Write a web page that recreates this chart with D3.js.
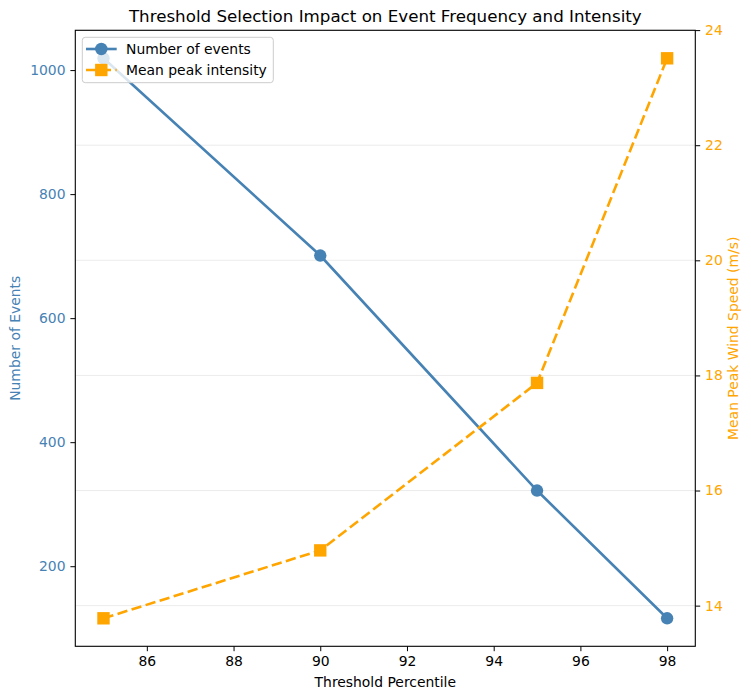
<!DOCTYPE html>
<html lang="en">
  <head>
    <meta charset="utf-8">
    <title>Threshold Selection Impact</title>
    <script src="https://cdn.jsdelivr.net/npm/d3@7"></script>
    <style>
      body, html { margin: 0; padding: 0; background: #fff; }
      svg { font-family: "DejaVu Sans", sans-serif; display: block; }
    </style>
  </head>
  <body>
    <svg width="751" height="699"></svg>
  </body>
  <script>
    // data
    const thresholds = [85, 90, 95, 98]
    const eventCounts = [1019, 701, 322, 116]
    const meanPeak = [13.78, 14.96, 17.87, 23.51]
    const leftTicks = [200, 400, 600, 800, 1000]
    const rightTicks = [14, 16, 18, 20, 22, 24]
    const xTicks = [86, 88, 90, 92, 94, 96, 98]

    const blue = "steelblue"
    const orange = "orange"

    const svg = d3.select("svg")
    // plot box (window.top is taken, so no plain "top")
    const plotL = 75.3, plotR = 695.3, plotT = 30.3, plotB = 646.3

    // matplotlib style 5% margins
    function padded(vals) {
      const [lo, hi] = d3.extent(vals)
      const m = (hi - lo) * 0.05
      return [lo - m, hi + m]
    }

    const x = d3.scaleLinear().domain(padded(thresholds)).range([plotL, plotR])
    const y1 = d3.scaleLinear().domain(padded(eventCounts)).range([plotB, plotT])
    const y2 = d3.scaleLinear().domain(padded(meanPeak)).range([plotB, plotT])

    // grid from the right axis
    svg.append("g").selectAll("line")
      .data(rightTicks)
      .join("line")
      .attr("x1", plotL).attr("x2", plotR)
      .attr("y1", d => y2(d)).attr("y2", d => y2(d))
      .attr("stroke", "#b0b0b0")
      .attr("stroke-opacity", 0.3)
      .attr("stroke-width", 0.8)

    // lines
    const line1 = d3.line().x((d, i) => x(thresholds[i])).y(d => y1(d))
    const line2 = d3.line().x((d, i) => x(thresholds[i])).y(d => y2(d))

    svg.append("path")
      .attr("d", line1(eventCounts))
      .attr("fill", "none")
      .attr("stroke", blue)
      .attr("stroke-width", 2.6)

    svg.append("g").selectAll("circle")
      .data(eventCounts)
      .join("circle")
      .attr("cx", (d, i) => x(thresholds[i]))
      .attr("cy", d => y1(d))
      .attr("r", 6.2)
      .attr("fill", blue)

    svg.append("path")
      .attr("d", line2(meanPeak))
      .attr("fill", "none")
      .attr("stroke", orange)
      .attr("stroke-width", 2.6)
      .attr("stroke-dasharray", "10.3,4.4")

    const sq = 12.4
    svg.append("g").selectAll("rect")
      .data(meanPeak)
      .join("rect")
      .attr("x", (d, i) => x(thresholds[i]) - sq / 2)
      .attr("y", d => y2(d) - sq / 2)
      .attr("width", sq)
      .attr("height", sq)
      .attr("fill", orange)

    // axes
    const fs = "13.9px"
    const gx = svg.append("g")
      .attr("transform", "translate(0," + plotB + ")")
      .call(d3.axisBottom(x).tickValues(xTicks).tickSize(4.9).tickPadding(4.9).tickFormat(d3.format("d")))
    const gl = svg.append("g")
      .attr("transform", "translate(" + plotL + ",0)")
      .call(d3.axisLeft(y1).tickValues(leftTicks).tickSize(4.9).tickPadding(4.9).tickFormat(d3.format("d")))
    const gr = svg.append("g")
      .attr("transform", "translate(" + plotR + ",0)")
      .call(d3.axisRight(y2).tickValues(rightTicks).tickSize(4.9).tickPadding(4.9).tickFormat(d3.format("d")))

    for (const g of [gx, gl, gr]) {
      g.select(".domain").remove()
      g.selectAll("line").attr("stroke", "#000").attr("stroke-width", 1)
      g.selectAll("text").style("font-size", fs).style("font-family", "DejaVu Sans")
    }
    gx.selectAll("text").attr("fill", "#000")
    gl.selectAll("text").attr("fill", blue)
    gr.selectAll("text").attr("fill", orange)

    // frame
    svg.append("rect")
      .attr("x", plotL).attr("y", plotT)
      .attr("width", plotR - plotL).attr("height", plotB - plotT)
      .attr("fill", "none")
      .attr("stroke", "#000")
      .attr("stroke-width", 1.1)

    // labels
    svg.append("text")
      .attr("x", (plotL + plotR) / 2).attr("y", 22)
      .attr("text-anchor", "middle")
      .style("font-size", "16.7px")
      .text("Threshold Selection Impact on Event Frequency and Intensity")

    svg.append("text")
      .attr("x", (plotL + plotR) / 2).attr("y", 687)
      .attr("text-anchor", "middle")
      .style("font-size", fs)
      .text("Threshold Percentile")

    svg.append("text")
      .attr("transform", "translate(20," + (plotT + plotB) / 2 + ") rotate(-90)")
      .attr("text-anchor", "middle")
      .attr("fill", blue)
      .style("font-size", fs)
      .text("Number of Events")

    svg.append("text")
      .attr("transform", "translate(738," + (plotT + plotB) / 2 + ") rotate(-90)")
      .attr("text-anchor", "middle")
      .attr("fill", orange)
      .style("font-size", fs)
      .text("Mean Peak Wind Speed (m/s)")

    // legend
    const legend = svg.append("g")
    legend.append("rect")
      .attr("x", 82.3).attr("y", 37.3)
      .attr("width", 191).attr("height", 45.4)
      .attr("rx", 3)
      .attr("fill", "#fff")
      .attr("fill-opacity", 0.8)
      .attr("stroke", "#ccc")
      .attr("stroke-width", 1)

    const legendItems = [
      { label: "Number of events", color: blue, shape: "circle", dash: null },
      { label: "Mean peak intensity", color: orange, shape: "square", dash: "10.3,4.4" }
    ]
    legendItems.forEach((it, i) => {
      const cy = 49 + i * 21
      legend.append("line")
        .attr("x1", 86).attr("x2", 116.7)
        .attr("y1", cy).attr("y2", cy)
        .attr("stroke", it.color)
        .attr("stroke-width", 2.6)
        .attr("stroke-dasharray", it.dash)
      if (it.shape === "circle") {
        legend.append("circle").attr("cx", 101.3).attr("cy", cy).attr("r", 6.2).attr("fill", it.color)
      } else {
        legend.append("rect").attr("x", 101.3 - sq / 2).attr("y", cy - sq / 2)
          .attr("width", sq).attr("height", sq).attr("fill", it.color)
      }
      legend.append("text")
        .attr("x", 126).attr("y", cy)
        .attr("dy", "0.35em")
        .style("font-size", fs)
        .text(it.label)
    })
  </script>
</html>
